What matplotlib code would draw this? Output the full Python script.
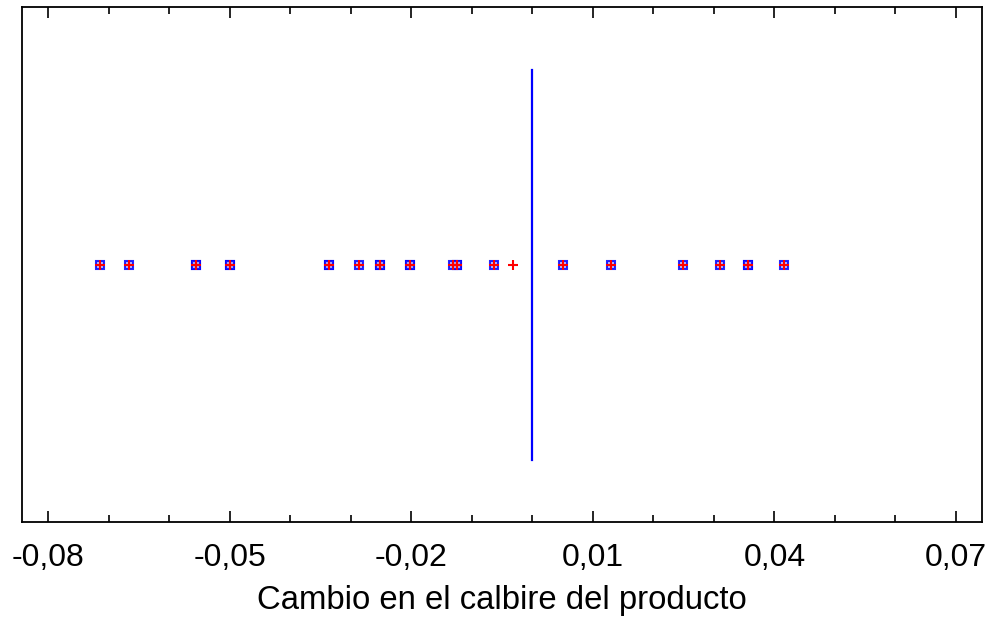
import matplotlib
matplotlib.use("Agg")
import matplotlib.pyplot as plt
from matplotlib.ticker import MultipleLocator, FuncFormatter

plt.rcParams['font.family'] = ['Liberation Sans', 'DejaVu Sans']

# Data
all_values = [-0.0714, -0.0666, -0.0556, -0.0556, -0.0500, -0.0500, -0.0335, -0.0335,
              -0.0287, -0.0252, -0.0252, -0.0202, -0.0202, -0.0131, -0.0125, -0.0125,
              -0.0063, -0.0032, 0.0051, 0.0130, 0.0249, 0.0310, 0.0356, 0.0356, 0.0416]
square_values = [v for v in all_values if v != -0.0032]
center_value = 0.0
tick_values = [-0.08, -0.05, -0.02, 0.01, 0.04, 0.07]
x_label = "Cambio en el calbire del producto"

fig = plt.figure(figsize=(9.95, 6.23), dpi=100)
ax = fig.add_axes([22/995, 1-522/623, (982-22)/995, (522-7)/623])

ax.plot(square_values, [0.5]*len(square_values), linestyle='none', marker='s',
        markersize=6, markerfacecolor='#b0b0ff', markeredgecolor='blue',
        markeredgewidth=1.5, alpha=0.85)
ax.plot(all_values, [0.5]*len(all_values), linestyle='none', marker='+',
        markersize=7, color='red', markeredgewidth=1.5)
ax.axvline(center_value, ymin=0.12, ymax=0.878, color='blue', lw=1.6)

ax.set_xlim(-0.0843, 0.0743)
ax.set_ylim(0, 1)
ax.set_yticks([])
ax.set_xticks(tick_values)
ax.xaxis.set_minor_locator(MultipleLocator(0.01))
ax.xaxis.set_major_formatter(FuncFormatter(lambda v, p: f"{v:.2f}".replace('.', ',')))
ax.tick_params(axis='x', which='both', direction='in', top=True, bottom=True,
               labelsize=23, pad=15, width=1.2, color='black')
ax.tick_params(axis='x', which='major', length=8)
ax.tick_params(axis='x', which='minor', length=5)
for s in ax.spines.values():
    s.set_linewidth(1.3)
ax.set_xlabel(x_label, fontsize=23.7, labelpad=9)

fig.savefig("out.png", dpi=100)
